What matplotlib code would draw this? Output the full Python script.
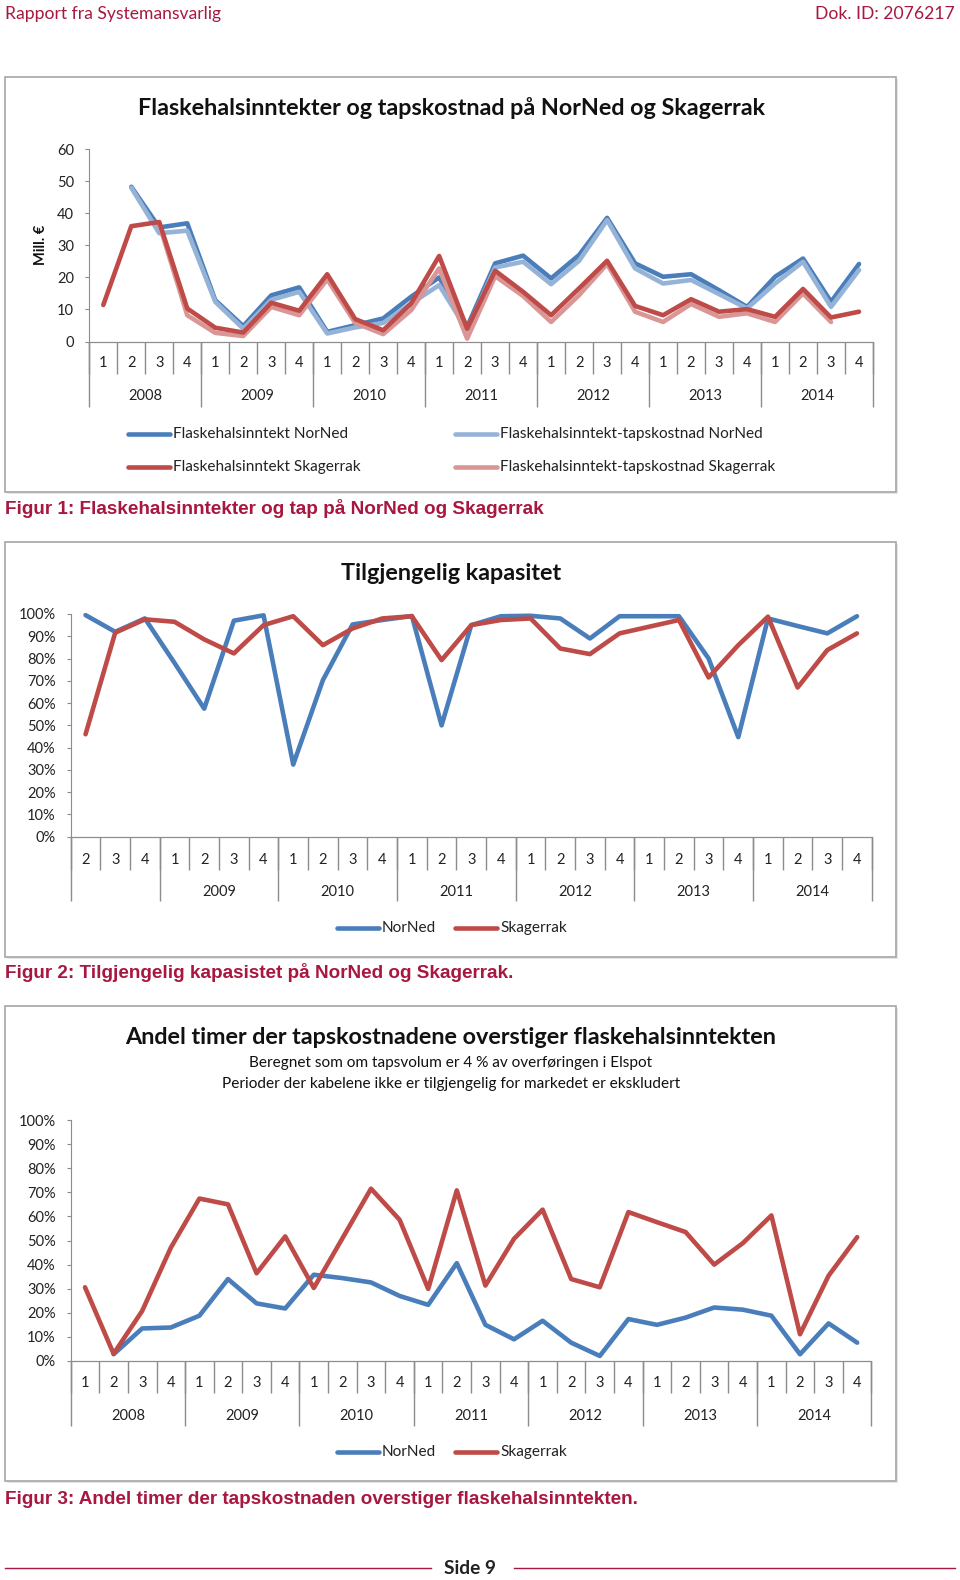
import numpy as np
import matplotlib
matplotlib.use("Agg")
import matplotlib.pyplot as plt
from matplotlib.patches import Rectangle
from matplotlib import transforms

# ---------------- data ----------------
years_all = ['2008', '2009', '2010', '2011', '2012', '2013', '2014']
quarters_28 = ['1', '2', '3', '4'] * 7

# Figure 1 (Mill. EUR), 2008Q1..2014Q4
nn_rev = [None, 48.3, 35.6, 36.9, 12.9, 4.8, 14.4, 16.9, 3.0, 5.1, 7.2, 14.0, 20.0, 4.6,
          24.4, 26.8, 19.7, 27.0, 38.6, 24.4, 20.2, 21.0, 16.0, 10.8, 20.2, 25.9, 12.4, 24.2]
nn_net = [None, 48.0, 33.8, 34.6, 12.4, 4.0, 13.0, 15.5, 2.5, 4.4, 5.8, 11.9, 17.6, 3.5,
          23.1, 24.9, 17.9, 25.2, 37.9, 22.8, 18.1, 19.2, 14.8, 10.3, 18.1, 24.9, 10.8, 22.3]
sk_rev = [11.4, 36.0, 37.3, 10.3, 4.3, 2.8, 12.1, 9.6, 21.0, 7.0, 3.5, 11.9, 26.7, 4.0,
          22.1, 15.5, 8.2, 16.6, 25.2, 11.1, 8.2, 13.2, 9.3, 10.1, 7.7, 16.4, 7.5, 9.3]
sk_net = [None, None, 36.5, 8.2, 2.7, 1.7, 10.8, 8.2, 19.4, 5.8, 2.3, 9.8, 22.8, 0.9,
          20.4, 14.2, 6.1, 14.5, 24.2, 9.3, 6.1, 11.7, 7.7, 8.8, 6.1, 15.0, 6.1, None]
fig1_series = ['Flaskehalsinntekt NorNed', 'Flaskehalsinntekt-tapskostnad NorNed',
               'Flaskehalsinntekt Skagerrak', 'Flaskehalsinntekt-tapskostnad Skagerrak']

# Figure 2 (%), 2008Q2..2014Q4
quarters_27 = ['2', '3', '4'] + ['1', '2', '3', '4'] * 6
years_fig2 = ['', '2009', '2010', '2011', '2012', '2013', '2014']
nn_cap = [99.5, 92, 98, 78, 57.5, 97, 99.4, 32.4, 70.3, 95.3, 97.3, 99.1, 50, 95,
          99, 99.2, 98, 89, 99, 99, 99, 80, 44.7, 98, 94.6, 91.3, 99]
sk_cap = [46, 91.6, 97.6, 96.5, 88.6, 82.3, 95, 99, 86, 93.5, 98, 99, 79.3, 95,
          97.3, 98, 84.5, 82, 91.3, 94.3, 97.3, 71.5, 86, 98.8, 67, 83.8, 91.3]

# Figure 3 (%), 2008Q1..2014Q4
nn_share = [None, 2.8, 13.5, 13.9, 18.8, 34, 23.9, 21.8, 35.8, 34.4, 32.6, 27, 23.3, 40.6,
            15, 9, 16.7, 7.6, 2.1, 17.4, 15, 18, 22.2, 21.3, 18.8, 2.8, 15.6, 7.6]
sk_share = [30.6, 3, 20.8, 47, 67.4, 65, 36.4, 51.7, 30.3, 50.9, 71.5, 58.6, 29.9, 70.8,
            31.3, 50.7, 62.8, 34, 30.6, 61.8, 57.6, 53.5, 40, 48.9, 60.4, 11.1, 35.4, 51.4]
two_series = ['NorNed', 'Skagerrak']

# ---------------- style ----------------
W, H = 960, 1580
PX = 72 / 100.0
CAL = ['Lato', 'DejaVu Sans']
ARI = ['Liberation Sans', 'DejaVu Sans']
CRIMSON = '#A8173F'
GRAY = '#8C8C8C'
BLUE = '#4A7EBB'
LBLUE = '#95B3D7'
RED = '#BE4B48'
LRED = '#D99694'
plt.rcParams['font.family'] = CAL

fig = plt.figure(figsize=(9.6, 15.8), dpi=100)
page = fig.add_axes([0, 0, 1, 1], zorder=0)
page.set_xlim(0, W)
page.set_ylim(H, 0)
page.axis('off')


def rect(x0, y0, x1, y1):
    return [x0 / W, 1 - y1 / H, (x1 - x0) / W, (y1 - y0) / H]


def cat_axis(ax, qlabels, ylabels, ysizes, qlen, ylen, qlab, ylab, fs=10.5):
    n = len(qlabels)
    ax.set_xlim(-0.5, n - 0.5)
    ax.set_xticks(np.arange(n + 1) - 0.5)
    ax.set_xticklabels([])
    ax.tick_params(axis='x', direction='out', length=qlen * PX, color=GRAY, width=1)
    bounds = np.concatenate([[-0.5], np.cumsum(ysizes) - 0.5])
    sec = ax.secondary_xaxis('bottom')
    sec.set_xticks(bounds)
    sec.set_xticklabels([])
    sec.tick_params(direction='out', length=ylen * PX, color=GRAY, width=1)
    sec.spines['bottom'].set_color(GRAY)
    tq = transforms.offset_copy(ax.get_xaxis_transform(), fig=fig, y=-qlab, units='dots')
    for i, q in enumerate(qlabels):
        ax.text(i, 0, q, transform=tq, ha='center', va='center', fontsize=fs, color='#222222')
    ty = transforms.offset_copy(ax.get_xaxis_transform(), fig=fig, y=-ylab, units='dots')
    for k, yl in enumerate(ylabels):
        ax.text((bounds[k] + bounds[k + 1]) / 2, 0, yl, transform=ty, ha='center',
                va='center', fontsize=fs, color='#222222')


def style_axes(ax, yticks, ylabels, fs=10.5):
    ax.set_facecolor('none')
    for s in ['top', 'right']:
        ax.spines[s].set_visible(False)
    for s in ['left', 'bottom']:
        ax.spines[s].set_color(GRAY)
    ax.set_yticks(yticks)
    ax.set_yticklabels(ylabels)
    ax.set_ylim(yticks[0], yticks[-1])
    ax.tick_params(axis='y', direction='out', length=4 * PX, color=GRAY, pad=8,
                   labelsize=fs, labelcolor='#222222')


def box(x0, y0, x1, y1):
    page.add_patch(Rectangle((x0 + 2, y0 + 2), x1 - x0, y1 - y0, facecolor='#E6E6E6',
                             edgecolor='none', zorder=0))
    page.add_patch(Rectangle((x0, y0), x1 - x0, y1 - y0, facecolor='white',
                             edgecolor='#A6A6A6', lw=1.2, zorder=1))


def legend_item(x, y, color, label, fs=11.1):
    page.plot([x, x + 42], [y, y], color=color, lw=3.3, solid_capstyle='round', zorder=3)
    page.text(x + 45, y, label, ha='left', va='center', fontsize=fs, color='#222222', zorder=3)


LW = 3.3
kw = dict(solid_joinstyle='round', solid_capstyle='round', clip_on=False)
TFS = 16.8

# ---------------- header / footer ----------------
page.text(5, 14, 'Rapport fra Systemansvarlig', color=CRIMSON, fontsize=12.6, va='center', ha='left')
page.text(955, 14, 'Dok. ID: 2076217', color=CRIMSON, fontsize=12.6, va='center', ha='right')
page.plot([5, 431], [1568, 1568], color=CRIMSON, lw=1)
page.plot([514, 955], [1568, 1568], color=CRIMSON, lw=1)
page.text(470, 1569, 'Side 9', fontsize=13.8, fontweight='bold', ha='center', va='center', color='#222222')

# ---------------- Figure 1 ----------------
box(5, 77, 896, 492)
page.text(451, 108, 'Flaskehalsinntekter og tapskostnad på NorNed og Skagerrak',
          fontsize=TFS, fontweight='bold', ha='center', va='center', color='#111111', zorder=3)
page.text(41, 245, 'Mill. €', rotation=90, fontsize=10.5, fontweight='bold', ha='center',
          va='center', color='#111111', zorder=3)
ax1 = fig.add_axes(rect(89.3, 149.3, 873, 341.5), zorder=2)
style_axes(ax1, list(range(0, 61, 10)), [str(v) for v in range(0, 61, 10)])
cat_axis(ax1, quarters_28, years_all, [4] * 7, 32, 65, 21.5, 54)
x28 = np.arange(28)
ax1.plot(x28, np.array(nn_rev, dtype=float), color=BLUE, lw=LW, zorder=3, **kw)
ax1.plot(x28, np.array(nn_net, dtype=float), color=LBLUE, lw=LW, zorder=4, **kw)
ax1.plot(x28, np.array(sk_net, dtype=float), color=LRED, lw=LW, zorder=5, **kw)
ax1.plot(x28, np.array(sk_rev, dtype=float), color=RED, lw=LW, zorder=6, **kw)
legend_item(128, 434, BLUE, fig1_series[0])
legend_item(455, 434, LBLUE, fig1_series[1])
legend_item(128, 467, RED, fig1_series[2])
legend_item(455, 467, LRED, fig1_series[3])
page.text(5, 509, 'Figur 1: Flaskehalsinntekter og tap på NorNed og Skagerrak', family=ARI,
          fontsize=13.6, fontweight='bold', color=CRIMSON, ha='left', va='center')

# ---------------- Figure 2 ----------------
box(5, 542, 896, 957)
page.text(451, 573, 'Tilgjengelig kapasitet', fontsize=TFS, fontweight='bold', ha='center',
          va='center', color='#111111', zorder=3)
ax2 = fig.add_axes(rect(70.7, 614, 871.8, 836.7), zorder=2)
style_axes(ax2, list(range(0, 101, 10)), [f'{v}%' for v in range(0, 101, 10)])
cat_axis(ax2, quarters_27, years_fig2, [3, 4, 4, 4, 4, 4, 4], 32.5, 64, 23.5, 55)
x27 = np.arange(27)
ax2.plot(x27, nn_cap, color=BLUE, lw=LW, zorder=3, **kw)
ax2.plot(x27, sk_cap, color=RED, lw=LW, zorder=4, **kw)
legend_item(337, 928, BLUE, two_series[0])
legend_item(455, 928, RED, two_series[1])
page.text(5, 973, 'Figur 2: Tilgjengelig kapasistet på NorNed og Skagerrak.', family=ARI,
          fontsize=13.6, fontweight='bold', color=CRIMSON, ha='left', va='center')

# ---------------- Figure 3 ----------------
box(5, 1006, 896, 1481)
page.text(451, 1038, 'Andel timer der tapskostnadene overstiger flaskehalsinntekten',
          fontsize=TFS, fontweight='bold', ha='center', va='center', color='#111111', zorder=3)
page.text(451, 1063, 'Beregnet som om tapsvolum er 4 % av overføringen i Elspot',
          fontsize=11.1, ha='center', va='center', color='#111111', zorder=3)
page.text(451, 1084, 'Perioder der kabelene ikke er tilgjengelig for markedet er ekskludert',
          fontsize=11.1, ha='center', va='center', color='#111111', zorder=3)
ax3 = fig.add_axes(rect(70.7, 1120, 871.5, 1361), zorder=2)
style_axes(ax3, list(range(0, 101, 10)), [f'{v}%' for v in range(0, 101, 10)])
cat_axis(ax3, quarters_28, years_all, [4] * 7, 32, 65, 22, 55)
ax3.plot(x28, np.array(nn_share, dtype=float), color=BLUE, lw=LW, zorder=3, **kw)
ax3.plot(x28, np.array(sk_share, dtype=float), color=RED, lw=LW, zorder=4, **kw)
legend_item(337, 1452, BLUE, two_series[0])
legend_item(455, 1452, RED, two_series[1])
page.text(5, 1499, 'Figur 3: Andel timer der tapskostnaden overstiger flaskehalsinntekten.',
          family=ARI, fontsize=13.6, fontweight='bold', color=CRIMSON, ha='left', va='center')

fig.savefig('out.png', dpi=100)
